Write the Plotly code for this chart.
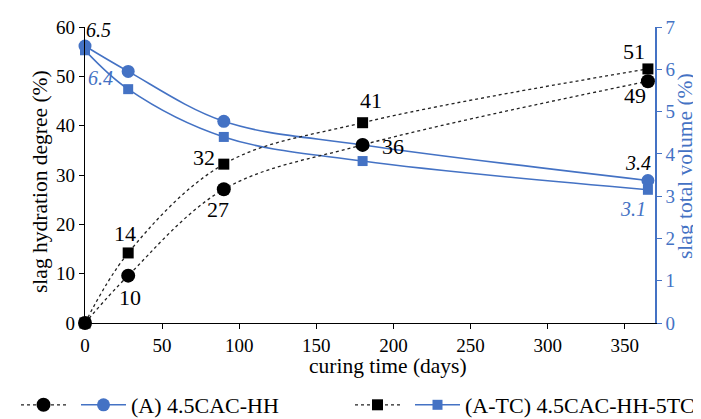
import plotly.graph_objects as go

days = [0, 28, 90, 180, 365]
hyd_A = [0, 9.6, 27.1, 36.1, 49.0]
hyd_TC = [0, 14.2, 32.2, 40.6, 51.5]
vol_A = [6.55, 5.95, 4.77, 4.21, 3.37]
vol_TC = [6.45, 5.53, 4.40, 3.83, 3.15]

hyd_A_labels = ["", "10", "27", "36", "49"]
hyd_TC_labels = ["", "14", "32", "41", "51"]
vol_A_labels = ["6.5", "", "", "", "3.4"]
vol_TC_labels = ["6.4", "", "", "", "3.1"]

name_A = "(A) 4.5CAC-HH"
name_TC = "(A-TC) 4.5CAC-HH-5TC"

BLUE = "#4472C4"
FONT = "Liberation Serif"
TICK_FS = 19
TITLE_FS = 21.5
LEG_FS = 22
LAB_FS = 22

L, R, T, B, W, H = 77, 54, 19, 104, 701, 419
PW, PH = W - L - R, H - T - B


def px_x(px):
    return (px - L) / PW


def px_y(py):
    return (H - B - py) / PH


fig = go.Figure()

fig.add_trace(go.Scatter(x=days, y=vol_A, mode="lines+markers", name=name_A,
                         line=dict(color=BLUE, width=1.6, shape="spline"),
                         marker=dict(symbol="circle", size=13, color=BLUE),
                         cliponaxis=False, yaxis="y", legend="legend", legendrank=2))
fig.add_trace(go.Scatter(x=days, y=vol_TC, mode="lines+markers", name=name_TC,
                         line=dict(color=BLUE, width=1.6, shape="spline"),
                         marker=dict(symbol="square", size=10, color=BLUE),
                         cliponaxis=False, yaxis="y", legend="legend2", legendrank=2))
fig.add_trace(go.Scatter(x=days, y=hyd_A, mode="lines+markers", name="",
                         line=dict(color="#222222", width=1.3, dash="dot", shape="spline"),
                         marker=dict(symbol="circle", size=14, color="black"),
                         cliponaxis=False, yaxis="y2", legend="legend", legendrank=1))
fig.add_trace(go.Scatter(x=days, y=hyd_TC, mode="lines+markers", name="",
                         line=dict(color="#222222", width=1.3, dash="dot", shape="spline"),
                         marker=dict(symbol="square", size=11, color="black"),
                         cliponaxis=False, yaxis="y2", legend="legend2", legendrank=1))

ann = []
offA = [None, (2, -22), (-6, -20), (30, -2), (-13, -14)]
offTC = [None, (-3, 19), (-20, 7), (8, 22), (-14, 17)]
for i, d in enumerate(days):
    if offA[i]:
        ann.append(dict(x=d, y=hyd_A[i], xref="x", yref="y2", text=hyd_A_labels[i],
                        showarrow=False, xshift=offA[i][0], yshift=offA[i][1],
                        font=dict(family=FONT, size=LAB_FS, color="black")))
    if offTC[i]:
        ann.append(dict(x=d, y=hyd_TC[i], xref="x", yref="y2", text=hyd_TC_labels[i],
                        showarrow=False, xshift=offTC[i][0], yshift=offTC[i][1],
                        font=dict(family=FONT, size=LAB_FS, color="black")))
offVA = {0: (13, 16), 4: (-10, 18)}
offVT = {0: (15, -28), 4: (-15, -19)}
for i, (dx, dy) in offVA.items():
    ann.append(dict(x=days[i], y=vol_A[i], xref="x", yref="y", text="<i>%s</i>" % vol_A_labels[i],
                    showarrow=False, xshift=dx, yshift=dy,
                    font=dict(family=FONT, size=20, color="black")))
for i, (dx, dy) in offVT.items():
    ann.append(dict(x=days[i], y=vol_TC[i], xref="x", yref="y", text="<i>%s</i>" % vol_TC_labels[i],
                    showarrow=False, xshift=dx, yshift=dy,
                    font=dict(family=FONT, size=20, color=BLUE)))

ann.append(dict(x=px_x(380), y=px_y(372), xref="paper", yref="paper",
                text="curing time (days)", showarrow=False,
                font=dict(family=FONT, size=TITLE_FS, color="black")))
ann.append(dict(x=px_x(18), y=px_y(174), xref="paper", yref="paper", textangle=-90,
                text="slag hydration degree (%)", showarrow=False,
                font=dict(family=FONT, size=TITLE_FS, color="black")))
ann.append(dict(x=px_x(691), y=px_y(158), xref="paper", yref="paper", textangle=-90,
                text="slag total volume (%)", showarrow=False,
                font=dict(family=FONT, size=TITLE_FS, color=BLUE)))

legend_common = dict(orientation="h", yanchor="middle", xanchor="left",
                     xref="container", yref="container",
                     font=dict(family=FONT, size=LEG_FS, color="black"),
                     itemwidth=45, bgcolor="rgba(0,0,0,0)", traceorder="normal")

fig.update_layout(
    width=W, height=H,
    margin=dict(l=L, r=R, t=T, b=B),
    paper_bgcolor="white", plot_bgcolor="white",
    font=dict(family=FONT, size=TICK_FS, color="black"),
    xaxis=dict(range=[0, 369.6], tickvals=[0, 50, 100, 150, 200, 250, 300, 350],
               showgrid=False, zeroline=False, showline=True, linecolor="black",
               linewidth=1.2, ticks="outside", ticklen=5, tickcolor="black",
               automargin=False, tickfont=dict(size=TICK_FS)),
    yaxis=dict(range=[0, 7], dtick=1, side="right", showgrid=False, zeroline=False,
               showline=True, linecolor=BLUE, linewidth=1.5, ticks="outside",
               ticklen=5, tickcolor=BLUE, tickfont=dict(size=TICK_FS, color=BLUE),
               automargin=False),
    yaxis2=dict(range=[0, 60], dtick=10, side="left", overlaying="y", showgrid=False,
                zeroline=False, showline=True, linecolor="black", linewidth=1.2,
                ticks="outside", ticklen=5, tickcolor="black", tickfont=dict(size=TICK_FS),
                automargin=False),
    legend=dict(x=8 / W, y=(H - 397) / H, **legend_common),
    legend2=dict(x=342 / W, y=(H - 397) / H, **legend_common),
    annotations=ann,
)

fig.write_html("out.html")
